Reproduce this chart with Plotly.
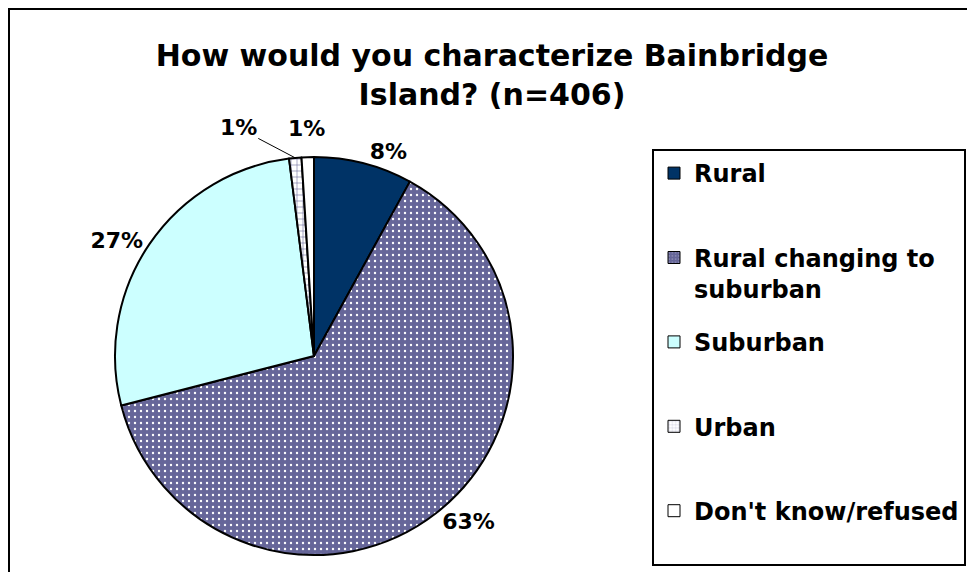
import math
import plotly.graph_objects as go

# Survey answers, in clockwise order starting at 12 o'clock
categories = ["Rural", "Rural changing to suburban", "Suburban", "Urban", "Don't know/refused"]
legend_labels = ["Rural", "Rural changing to<br>suburban", "Suburban", "Urban", "Don't know/refused"]
shares = [8, 63, 27, 1, 1]

# Slice styling
fill_colors = ["#003366", "#666699", "#CCFFFF", "#FFFFFF", "#FFFFFF"]
pattern_shapes = ["", ".", "", "+", ""]
pattern_fg = ["#003366", "#FFFFFF", "#CCFFFF", "#666699", "#FFFFFF"]
pattern_solidity = [0.3, 0.12, 0.3, 0.18, 0.3]
# the two thin slices get their labels placed by hand-tuned offsets
label_mode = ["outside", "outside", "outside", "none", "none"]

W, H = 967, 572
FONT = "DejaVu Sans"

# pie box in pixels (left, top, right, bottom)
PIE_L, PIE_T, PIE_R, PIE_B = 115, 157, 513, 555


def fx(px):
    return px / W


def fy(px):
    return 1 - px / H


fig = go.Figure()

fig.add_trace(go.Pie(
    labels=categories,
    values=shares,
    sort=False,
    direction="clockwise",
    rotation=0,
    marker=dict(
        colors=fill_colors,
        line=dict(color="black", width=2),
        pattern=dict(shape=pattern_shapes, fgcolor=pattern_fg, bgcolor=fill_colors,
                     size=6, solidity=pattern_solidity),
    ),
    texttemplate="%{value}%",
    textposition=label_mode,
    textfont=dict(family=FONT, size=22, color="black", weight="bold"),
    domain=dict(x=[fx(PIE_L), fx(PIE_R)], y=[fy(PIE_B), fy(PIE_T)]),
    showlegend=False,
    hovertemplate="%{label}: %{value}%<extra></extra>",
))

# Labels for the thin slices, positioned from each slice's mid angle
cx, cy = (PIE_L + PIE_R) / 2, (PIE_T + PIE_B) / 2
radius = (PIE_R - PIE_L) / 2
total = sum(shares)
annotations = []
start = 0.0
for i, v in enumerate(shares):
    mid = (start + v / 2) / total * 2 * math.pi
    start += v
    if label_mode[i] != "none":
        continue
    if categories[i] == "Urban":
        # callout line from the slice edge to a label pulled off to the left
        px = cx + radius * math.sin(mid)
        py = cy - radius * math.cos(mid)
        annotations.append(dict(
            x=fx(px), y=fy(py), xref="paper", yref="paper",
            text=f"{v}%", showarrow=True, ax=-57, ay=-30,
            arrowhead=0, arrowwidth=1, arrowcolor="black", standoff=0,
            font=dict(family=FONT, size=22, color="black", weight="bold"),
        ))
    else:
        px = cx + (radius + 29) * math.sin(mid)
        py = cy - (radius + 29) * math.cos(mid)
        annotations.append(dict(
            x=fx(px), y=fy(py), xref="paper", yref="paper",
            xanchor="center", yanchor="middle",
            text=f"{v}%", showarrow=False,
            font=dict(family=FONT, size=22, color="black", weight="bold"),
        ))

# Legend entries (one group per answer so the entries can be spaced out)
for i, (name, lbl) in enumerate(zip(categories, legend_labels)):
    text = lbl if "<br>" in lbl else lbl + "<br> "
    fig.add_trace(go.Bar(
        x=[None], y=[None],
        name=text,
        legendgroup=name,
        showlegend=True,
        hoverinfo="skip",
        marker=dict(
            color=fill_colors[i],
            line=dict(color="black", width=1),
            pattern=dict(shape=pattern_shapes[i], fgcolor=pattern_fg[i],
                         bgcolor=fill_colors[i], size=4, solidity=pattern_solidity[i]),
        ),
    ))

fig.update_layout(
    width=W,
    height=H,
    margin=dict(l=0, r=0, t=0, b=0, autoexpand=False),
    paper_bgcolor="white",
    plot_bgcolor="white",
    xaxis=dict(visible=False),
    yaxis=dict(visible=False),
    title=dict(
        text="How would you characterize Bainbridge<br>Island? (n=406)",
        x=fx(492), xanchor="center",
        y=fy(66), yanchor="top",
        xref="paper", yref="paper",
        font=dict(family=FONT, size=30, color="black", weight="bold"),
    ),
    legend=dict(
        x=fx(652), y=fy(149), xanchor="left", yanchor="top",
        bordercolor="black", borderwidth=2, bgcolor="white",
        font=dict(family=FONT, size=24, color="black", weight="bold"),
        itemwidth=30,
        valign="top",
        traceorder="grouped",
        tracegroupgap=19,
        itemclick=False,
        itemdoubleclick=False,
    ),
    annotations=annotations,
    shapes=[dict(
        type="rect", xref="paper", yref="paper",
        x0=fx(9), y0=fy(9), x1=1.05, y1=-0.05,
        line=dict(color="black", width=2),
        layer="below",
    )],
)

fig.write_html("out.html")
